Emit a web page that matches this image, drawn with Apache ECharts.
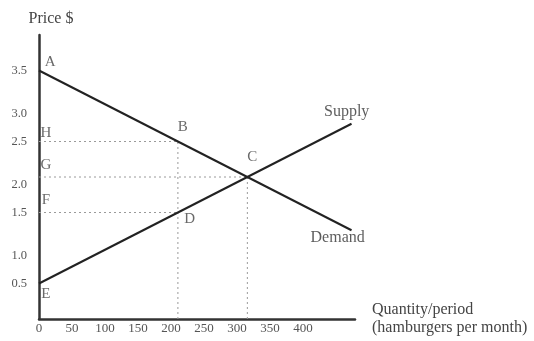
<!DOCTYPE html>
<html>
<head>
<meta charset="utf-8">
<script src="https://cdn.jsdelivr.net/npm/echarts@6/dist/echarts.min.js"></script>
<style>html,body{margin:0;padding:0;background:#fff;}#c{width:534px;height:341px;}</style>
</head>
<body>
<div id="c"></div>
<script>
// Data
const demandQ = [0, 450];
const demandP = [3.5, 1.25];
const supplyQ = [0, 450];
const supplyP = [0.5, 2.75];
// reference points
const pointB = [200, 2.5];
const pointC = [300, 2.0];
const pointD = [200, 1.5];
// letter labels [q, p, text]
const letters = [
  [16, 3.62, 'A'], [10, 2.62, 'H'], [10, 2.17, 'G'], [10, 1.68, 'F'], [10, 0.35, 'E'],
  [207, 2.71, 'B'], [307, 2.28, 'C'], [217, 1.41, 'D']
];
const curveNames = [[443, 2.92, 'Supply'], [430, 1.14, 'Demand']];
const xTickLabels = [0, 50, 100, 150, 200, 250, 300, 350, 400];
const yTickLabels = [0.5, 1.0, 1.5, 2.0, 2.5, 3.0, 3.5];

const font = '"Liberation Serif", "DejaVu Serif", serif';
const chart = echarts.init(document.getElementById('c'));
const dotted = {color: '#9a9a9a', width: 1, type: [2, 3]};
function seg(a, b) {
  return {type: 'line', data: [a, b], symbol: 'none', lineStyle: dotted, silent: true, z: 1};
}
chart.setOption({
  animation: false,
  backgroundColor: '#fff',
  grid: {left: 39, right: 179, top: 35, bottom: 22, containLabel: false},
  xAxis: [{
    type: 'value', min: 0, max: 455,
    axisLine: {show: true, lineStyle: {color: '#333', width: 2.5}},
    axisTick: {show: false}, axisLabel: {show: false}, splitLine: {show: false},
    name: 'Quantity/period\n(hamburgers per month)', nameLocation: 'end', nameGap: 17,
    nameTextStyle: {fontFamily: font, fontSize: 16, color: '#444', align: 'left', verticalAlign: 'middle', lineHeight: 18}
  }, {
    type: 'value', min: 0, max: 479, interval: 50, position: 'bottom',
    axisLine: {show: false}, axisTick: {show: false}, splitLine: {show: false},
    axisLabel: {show: true, margin: 3, fontFamily: font, fontSize: 13, color: '#555',
      formatter: v => xTickLabels.indexOf(v) >= 0 ? String(v) : ''}
  }],
  yAxis: {
    type: 'value', min: 0, max: 4, interval: 0.5,
    axisLine: {show: true, lineStyle: {color: '#333', width: 2.5}},
    axisTick: {show: false}, splitLine: {show: false},
    axisLabel: {show: true, margin: 12, fontFamily: font, fontSize: 12.5, color: '#555',
      formatter: v => {
        const t = yTickLabels.find(y => Math.abs(y - v) < 1e-9);
        if (t === undefined) return '';
        return Number.isInteger(t) ? '{i|' + t.toFixed(1) + '}' : '{h|' + t.toFixed(1) + '}';
      },
      rich: {i: {padding: [16, 0, 0, 0], fontFamily: font, fontSize: 12.5, color: '#555'},
             h: {fontFamily: font, fontSize: 12.5, color: '#555'}}
    },
    name: 'Price $', nameLocation: 'end', nameGap: 8,
    nameTextStyle: {fontFamily: font, fontSize: 16, color: '#444', align: 'center', padding: [0, 0, 0, 24]}
  },
  series: [
    seg([0, pointB[1]], pointB), seg([0, pointC[1]], pointC), seg([0, pointD[1]], pointD),
    seg([pointB[0], 0], pointB), seg([pointC[0], 0], pointC),
    {type: 'line', data: demandQ.map((q, i) => [q, demandP[i]]), symbol: 'none',
     lineStyle: {color: '#222', width: 2}, z: 3},
    {type: 'line', data: supplyQ.map((q, i) => [q, supplyP[i]]), symbol: 'none',
     lineStyle: {color: '#222', width: 2}, z: 3},
    {type: 'scatter', data: letters, symbolSize: 0, z: 4,
     label: {show: true, position: 'inside', formatter: p => p.data[2], fontFamily: font, fontSize: 15, color: '#444'}},
    {type: 'scatter', data: curveNames, symbolSize: 0, z: 4,
     label: {show: true, position: 'inside', formatter: p => p.data[2], fontFamily: font, fontSize: 16, color: '#333'}}
  ]
});
</script>
</body>
</html>
